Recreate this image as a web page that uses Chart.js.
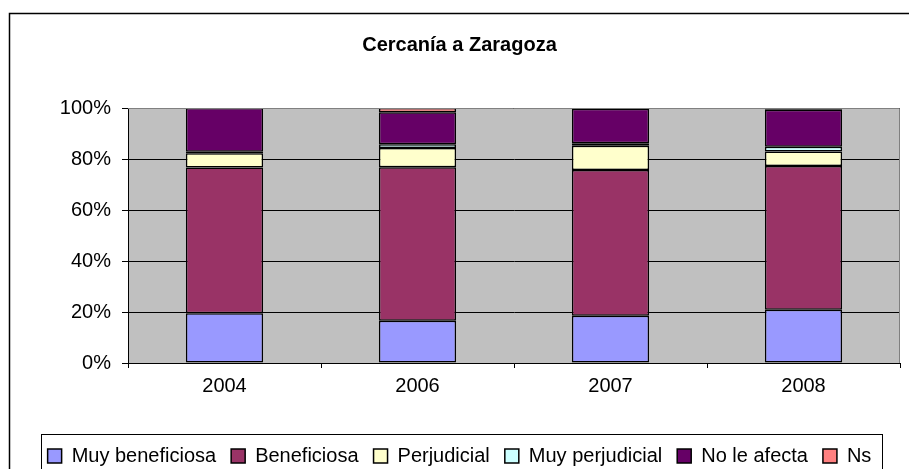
<!DOCTYPE html>
<html>
<head>
<meta charset="utf-8">
<script src="https://cdn.jsdelivr.net/npm/chart.js@4.4.1/dist/chart.umd.min.js"></script>
<style>
  body { margin: 0; background: #fff; }
  #wrap { width: 909px; height: 469px; }
</style>
</head>
<body>
<div id="wrap"><canvas id="chart" width="909" height="469"></canvas></div>
<script>
const years = ["2004", "2006", "2007", "2008"];
const muyBeneficiosa = [19.5, 16.6, 18.5, 20.9];
const beneficiosa = [57.2, 60.2, 57.2, 56.4];
const perjudicial = [5.6, 7.5, 9.5, 5.6];
const muyPerjudicial = [0.5, 1.5, 1.0, 1.9];
const noLeAfecta = [17.2, 12.5, 13.5, 14.5];
const ns = [0, 1.7, 0.3, 0.7];
const yTicks = [0, 20, 40, 60, 80, 100];

const FONT = "'Liberation Sans', Arial, sans-serif";

function ds(label, data, color) {
  return {
    label: label,
    data: data,
    backgroundColor: color,
    borderColor: "#000",
    borderWidth: 1.5,
    borderSkipped: false,
    barPercentage: 0.4,
    categoryPercentage: 1,
  };
}

// gray plot background, outer frame and legend box
const frame = {
  id: "frame",
  beforeDraw(chart) {
    const ctx = chart.ctx;
    const a = chart.chartArea;
    ctx.save();
    ctx.fillStyle = "#c0c0c0";
    ctx.fillRect(a.left, a.top, a.right - a.left, a.bottom - a.top);
    ctx.strokeStyle = "#000";
    ctx.lineWidth = 1.5;
    ctx.strokeRect(9.5, 13.5, 1000, 1000);
    ctx.restore();
  },
  afterDraw(chart) {
    const ctx = chart.ctx;
    const a = chart.chartArea;
    ctx.save();
    ctx.strokeStyle = "#808080";
    ctx.lineWidth = 1;
    ctx.beginPath();
    ctx.moveTo(a.left, a.top + 0.5);
    ctx.lineTo(a.right - 0.5, a.top + 0.5);
    ctx.lineTo(a.right - 0.5, a.bottom);
    ctx.stroke();
    const boxes = chart.legend.legendHitBoxes;
    if (boxes && boxes.length) {
      let l = Infinity, r = -Infinity;
      boxes.forEach(function (b) {
        l = Math.min(l, b.left);
        r = Math.max(r, b.left + b.width);
      });
      ctx.strokeStyle = "#000";
      ctx.lineWidth = 1;
      ctx.strokeRect(Math.round(l - 7) + 0.5, 434.5, Math.round(r - l + 17), 100);
    }
    ctx.restore();
  },
};

new Chart(document.getElementById("chart"), {
  type: "bar",
  data: {
    labels: years,
    datasets: [
      ds("Muy beneficiosa", muyBeneficiosa, "#9999ff"),
      ds("Beneficiosa", beneficiosa, "#993366"),
      ds("Perjudicial", perjudicial, "#ffffcc"),
      ds("Muy perjudicial", muyPerjudicial, "#ccffff"),
      ds("No le afecta", noLeAfecta, "#660066"),
      ds("Ns", ns, "#ff8080"),
    ],
  },
  options: {
    responsive: false,
    animation: false,
    layout: { padding: { left: 19, right: 9, top: 0, bottom: -7 } },
    plugins: {
      title: {
        display: true,
        text: "Cercanía a Zaragoza",
        color: "#000",
        font: { family: FONT, size: 20, weight: "bold" },
        padding: { top: 33, bottom: 51 },
      },
      legend: {
        position: "bottom",
        labels: {
          color: "#000",
          boxWidth: 14,
          boxHeight: 14,
          padding: 15,
          font: { family: FONT, size: 20 },
        },
      },
      tooltip: { enabled: false },
    },
    scales: {
      x: {
        stacked: true,
        grid: { offset: true, drawOnChartArea: false, tickLength: 5, color: "#000" },
        border: { color: "#000", width: 1 },
        ticks: { color: "#000", padding: 6, font: { family: FONT, size: 20 } },
        afterFit(scale) { scale.height = 68; },
      },
      y: {
        stacked: true,
        min: 0,
        max: 100,
        afterBuildTicks(scale) { scale.ticks = yTicks.map(v => ({ value: v })); },
        grid: { color: "#000", tickLength: 6, lineWidth: 1 },
        border: { color: "#000", width: 1 },
        ticks: {
          color: "#000",
          padding: 11,
          font: { family: FONT, size: 20 },
          callback: v => v + "%",
        },
        afterFit(scale) { scale.width = 109; },
      },
    },
  },
  plugins: [frame],
});
</script>
</body>
</html>
